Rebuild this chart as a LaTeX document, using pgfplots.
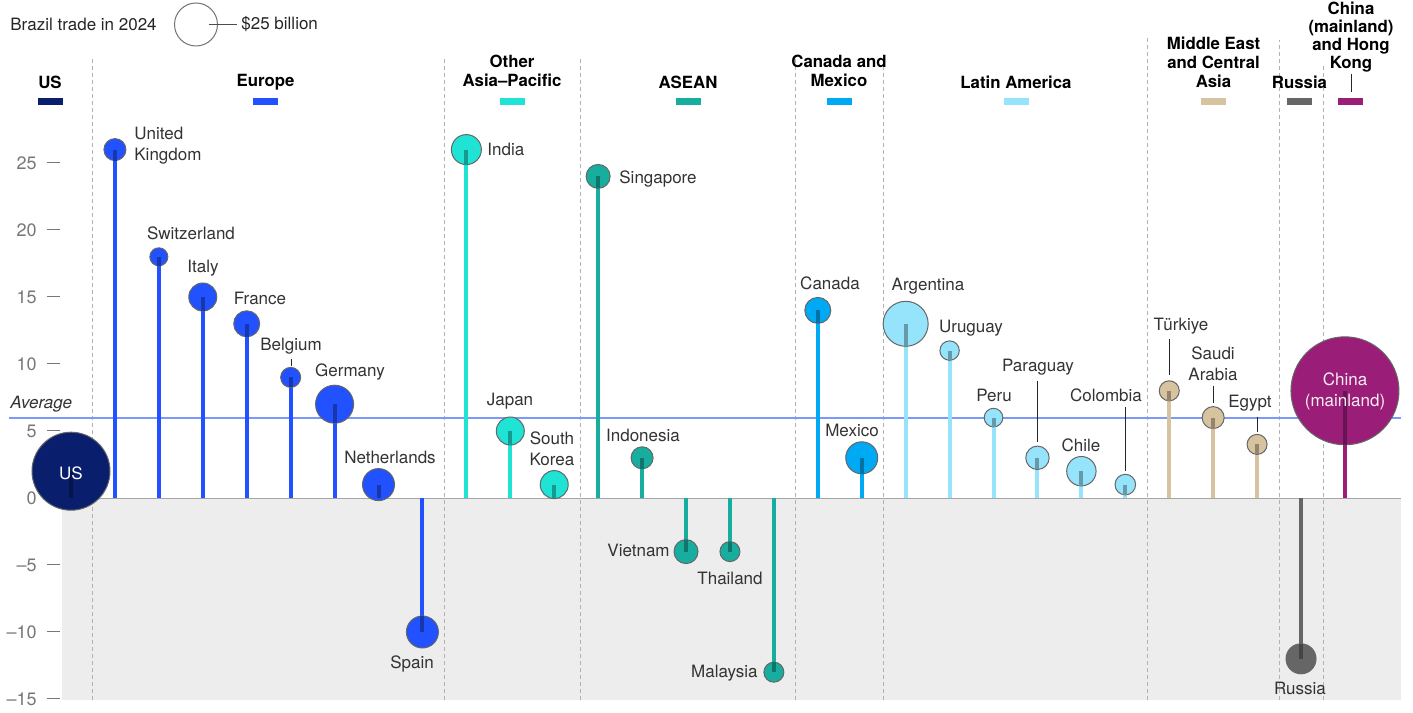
\documentclass[border=0pt]{standalone}
\usepackage{fontspec}
\setmainfont{TeX Gyre Heros}
\usepackage{pgfplots}
\usepackage{pgfplotstable}
\pgfplotsset{compat=1.18}

\definecolor{usnavy}{HTML}{0A1E6E}
\definecolor{europe}{HTML}{2251FF}
\definecolor{otherap}{HTML}{1EE3D5}
\definecolor{asean}{HTML}{17AE9F}
\definecolor{canmex}{HTML}{00A9F4}
\definecolor{latam}{HTML}{96E3FC}
\definecolor{mideast}{HTML}{D8C3A1}
\definecolor{russia}{HTML}{666666}
\definecolor{china}{HTML}{9A1D78}
\definecolor{bggray}{HTML}{EDEDED}
\definecolor{tickgray}{HTML}{777777}
\definecolor{labgray}{HTML}{333333}
\definecolor{avgblue}{HTML}{7C98FF}
\definecolor{bubedge}{HTML}{666666}

% x = position, y = value (billions), r = bubble radius (px), d = inner stem (signed)
\pgfplotstableread{
x y r d
0 2 39 -2
}\tabUS
\pgfplotstableread{
x y r d
1 26 11 -0.82
2 18 9 -0.67
3 15 14 -1.04
4 13 13 -0.97
5 9 10 -0.75
6 7 19 -1.42
7 1 16 -1
8 -10 16 1.19
}\tabEU
\pgfplotstableread{
x y r d
9 26 15 -1.12
10 5 14 -1.04
11 1 14 -1
}\tabAP
\pgfplotstableread{
x y r d
12 24 12 -0.90
13 3 11 -0.82
14 -4 12 0.90
15 -4 10 0.75
16 -13 10 0.75
}\tabAS
\pgfplotstableread{
x y r d
17 14 13 -0.97
18 3 16 -1.19
}\tabCM
\pgfplotstableread{
x y r d
19 13 22.5 -1.68
20 11 9.7 -0.72
21 6 9.3 -0.69
22 3 11.7 -0.87
23 2 14.7 -1.10
24 1 10.3 -0.77
}\tabLA
\pgfplotstableread{
x y r d
25 8 10 -0.75
26 6 11 -0.82
27 4 10 -0.75
}\tabME
\pgfplotstableread{
x y r d
28 -12 15 1.12
}\tabRU
\pgfplotstableread{
x y r d
29 8 54 -4.03
}\tabCN

\newcommand{\lolli}[2]{%
  \addplot[ycomb, draw=#2, line width=2pt, mark=none, forget plot]
    table[x=x, y=y] {#1};
  \addplot[scatter, only marks, mark=*, forget plot,
    scatter/use mapped color={draw=bubedge, fill=#2},
    visualization depends on={\thisrow{r}/2 \as \rr},
    scatter/@pre marker code/.append style={/tikz/mark size=\rr},
    mark options={line width=0.5pt}]
    table[x=x, y=y] {#1};
  \addplot[quiver={u=0, v=\thisrow{d},
      every arrow/.append style={-, line width=2pt, draw=#2!68!black}},
    draw=#2!68!black, line width=2pt, mark=none, forget plot]
    table[x=x, y=y] {#1};
}

\newcommand\tk{\hspace{5pt}\rule[0.32em]{6.5pt}{0.5pt}}

\tikzset{
  lab/.style={font=\fontsize{8.5}{10.5}\selectfont, text=labgray, inner sep=0pt, align=center},
  hdr/.style={font=\fontsize{8.4}{9.5}\selectfont\bfseries, text=black, inner sep=0pt, align=center},
  lead/.style={draw=black!85, line width=0.5pt},
  sep/.style={draw=black!30, line width=0.5pt, dash pattern=on 2pt off 1.5pt},
}

\begin{document}
\begin{tikzpicture}
\begin{axis}[
  scale only axis, width=706.5pt, height=356pt,
  xmin=-1.6162, xmax=30.549, ymin=-15.970, ymax=37.164,
  axis line style={draw=none}, tick style={draw=none}, major tick length=0pt,
  xtick=\empty,
  ytick={-15,-10,-5,0,5,10,15,20,25},
  yticklabels={–15\tk,–10\tk,–5\tk,0\tk,5\tk,10\tk,15\tk,20\tk,25\tk},
  yticklabel style={font=\fontsize{9}{10}\selectfont, text=tickgray,
    anchor=east, inner sep=0pt, xshift=30pt},
  clip=false, clip mode=individual,
]
\fill[bggray] (axis cs:-0.205,0) rectangle (axis cs:30.277,-15.07);
\draw[black!35, line width=0.5pt] (axis cs:-0.205,0) -- (axis cs:30.277,0);
\draw[sep] (axis cs:0.5,-15.07) -- (axis cs:0.5,32.84);
\draw[sep] (axis cs:8.5,-15.07) -- (axis cs:8.5,32.84);
\draw[sep] (axis cs:11.6,-15.07) -- (axis cs:11.6,32.84);
\draw[sep] (axis cs:16.5,-15.07) -- (axis cs:16.5,32.84);
\draw[sep] (axis cs:18.5,-15.07) -- (axis cs:18.5,32.84);
\draw[sep] (axis cs:24.5,-15.07) -- (axis cs:24.5,34.40);
\draw[sep] (axis cs:27.5,-15.07) -- (axis cs:27.5,34.18);
\draw[sep] (axis cs:28.5,-15.07) -- (axis cs:28.5,32.46);
\draw[draw=avgblue, line width=1pt] (axis cs:-1.411,6) -- (axis cs:30.277,6);

\lolli{\tabUS}{usnavy}
\lolli{\tabEU}{europe}
\lolli{\tabAP}{otherap}
\lolli{\tabAS}{asean}
\lolli{\tabCM}{canmex}
\lolli{\tabLA}{latam}
\lolli{\tabME}{mideast}
\lolli{\tabRU}{russia}
\lolli{\tabCN}{china}
\end{axis}

\begin{scope}[shift={(0pt,356pt)}, x=0.5pt, y=-0.5pt]
% size key
\node[lab, anchor=west, text=black!85] at (10,24.5) {Brazil trade in 2024};
\draw[black!55, line width=0.5pt] (196,24.5) circle[radius=10.75pt];
\draw[black!70, line width=0.5pt] (209,24.5) -- (237,24.5);
\node[lab, anchor=west, text=black!85] at (241,24.5) {\$25 billion};
\node[lab, anchor=west, font=\fontsize{8.5}{10.5}\selectfont\itshape] at (10,404) {Average};

% group headers
\node[hdr] at (50,82) {US};
\node[hdr] at (265.5,82) {Europe};
\node[hdr] at (512,71) {Other\\Asia–Pacific};
\node[hdr] at (688,82) {ASEAN};
\node[hdr] at (839,71) {Canada and\\Mexico};
\node[hdr] at (1016,82) {Latin America};
\node[hdr] at (1213.5,62) {Middle East\\and Central\\Asia};
\node[hdr] at (1299.5,82) {Russia};
\node[hdr, font=\fontsize{8.4}{9}\selectfont\bfseries] at (1351,37) {China\\(mainland)\\and Hong\\Kong};
\draw[lead] (1351,74) -- (1351,92);
\fill[usnavy] (37.5,98) rectangle (62.5,105);
\fill[europe] (253,98) rectangle (278,105);
\fill[otherap] (499.5,98) rectangle (524.5,105);
\fill[asean] (675.5,98) rectangle (700.5,105);
\fill[canmex] (826.5,98) rectangle (851.5,105);
\fill[latam] (1003.5,98) rectangle (1028.5,105);
\fill[mideast] (1201,98) rectangle (1226,105);
\fill[russia] (1287,98) rectangle (1312,105);
\fill[china] (1338,98) rectangle (1363,105);

% country labels
\node[lab, text=white] at (71,473) {US};
\node[lab, anchor=west, align=left] at (134,146) {United\\Kingdom};
\node[lab] at (191,233) {Switzerland};
\node[lab] at (203,268) {Italy};
\node[lab] at (260,298) {France};
\node[lab] at (291,346) {Belgium};
\draw[lead] (291,359) -- (291,366);
\node[lab] at (350,372) {Germany};
\node[lab] at (390,457) {Netherlands};
\node[lab] at (412,664) {Spain};
\node[lab, anchor=west] at (487,149) {India};
\node[lab] at (510,401) {Japan};
\node[lab] at (552,449) {South\\Korea};
\node[lab, anchor=west] at (619,179) {Singapore};
\node[lab] at (643,435) {Indonesia};
\node[lab, anchor=east] at (670,550) {Vietnam};
\node[lab] at (730,578) {Thailand};
\node[lab, anchor=east] at (758,673) {Malaysia};
\node[lab] at (830,283) {Canada};
\node[lab] at (852,430) {Mexico};
\node[lab] at (928,286) {Argentina};
\node[lab] at (971,328) {Uruguay};
\node[lab] at (994,395) {Peru};
\node[lab] at (1038,367) {Paraguay};
\draw[lead] (1037.5,381) -- (1037.5,442);
\node[lab] at (1081,445) {Chile};
\node[lab] at (1106,395) {Colombia};
\draw[lead] (1125.5,407) -- (1125.5,471);
\node[lab] at (1181,326) {Türkiye};
\draw[lead] (1169,339) -- (1169,375);
\node[lab] at (1213,364) {Saudi\\Arabia};
\draw[lead] (1213,386) -- (1213,403);
\node[lab] at (1250,403) {Egypt};
\draw[lead] (1257,417) -- (1257,432);
\node[lab] at (1300,688) {Russia};
\node[lab, text=white!92!china] at (1345,391) {China\\(mainland)};
\end{scope}

\pgfresetboundingbox
\path (0,0) rectangle (706.5pt,356pt);
\end{tikzpicture}
\end{document}
